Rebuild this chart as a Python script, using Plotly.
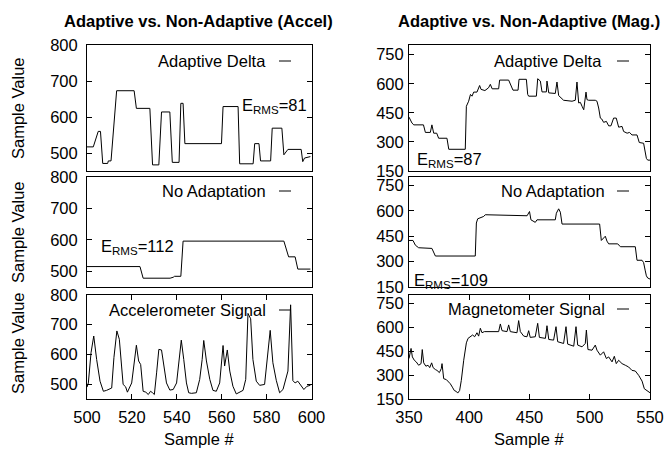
import plotly.graph_objects as go

W, H = 666, 449

# ---------------- data ----------------
accel_adapt_x = [500, 502.8, 505, 506, 507, 509.2, 509.5, 510.7, 513.2, 521, 522, 528, 529.2, 532, 533.2, 536.9, 538, 541,
                 541.8, 542.8, 543.6, 559.9, 560.6, 567.3, 568, 574, 574.7, 576.6, 577.3, 581.8, 582.5, 586.8, 587.7,
                 589.5, 595.4, 596.1, 596.9, 598.7, 599.5]
accel_adapt_y = [517, 517, 560, 560, 471, 471, 478, 478, 673, 673, 624, 624, 467, 467, 614, 614, 474, 474,
                 638, 638, 526, 526, 629, 629, 470, 470, 526, 526, 478, 478, 569, 569, 495,
                 510, 510, 476, 486, 488, 490]

accel_noad_x = [500, 523.6, 525, 537, 538.4, 539, 541.8, 542.8, 587.7, 589.8, 592.7, 593.9, 599.5]
accel_noad_y = [515, 515, 478, 478, 481, 484, 484, 596, 596, 546, 546, 507, 507]

accel_sig_x = [500, 500.6, 501.8, 503, 504.3, 505.8, 507.3, 508.7, 511, 512, 513.3, 514.4, 515.4, 516.1, 517.2, 518,
               519.9, 521, 522, 523, 523.9, 525, 526.2, 527.3, 528.3, 529.2, 530, 531, 532, 533.2, 534.4, 535.4,
               536.9, 538.4, 539.9, 541, 542, 543.1, 544.3, 545.3, 546.5, 548.7, 550.2, 551.3, 552, 553.2, 554.7,
               556.1, 557.6, 559.1, 560.6, 561.3, 562.5, 563.6, 565, 566.5, 568, 569.5, 570.7, 571.7, 572.9, 573.9,
               575.4, 576.9, 579.1, 580.6, 581.6, 582.8, 584.3, 585.8, 587.3, 589.5, 590.7, 591.7, 592.7, 593.9,
               595.1, 596.6, 598, 599.5]
accel_sig_y = [490, 504, 606, 662, 583, 510, 476, 479, 487, 590, 679, 651, 561, 499, 491, 473,
               504, 572, 631, 578, 566, 476, 473, 465, 476, 471, 465, 538, 617, 615, 561, 504,
               480, 482, 504, 583, 648, 583, 504, 471, 469, 471, 516, 583, 647, 578, 516,
               479, 476, 504, 630, 561, 615, 544, 493, 467, 473, 479, 516, 738, 720, 583,
               510, 496, 499, 617, 681, 572, 513, 471, 482, 544, 767, 512, 504, 510,
               499, 482, 493, 496]

mag_adapt_x = [350, 352.5, 354, 362, 363.6, 367.7, 369, 370, 370.5, 373, 374.6, 381.5, 383, 396.7, 397.6, 399.5, 401,
               402.3, 403.7, 406.4, 408.6, 409.8, 413, 416, 417.5, 419, 424.4, 425.2, 432.7, 436.3, 440.5, 441.3,
               447.4, 448.5, 449.3, 455.7, 456.8, 459, 460.4, 464, 464.5, 466, 471.4, 472.8, 474.2, 478.3, 485.3,
               488, 489.4, 490.8, 492.2, 493.6, 495, 496.9, 497.7, 499.1, 504.6, 506, 507.4, 508.8, 510, 511.5,
               513.8, 515.7, 517.6, 519.8, 522, 524, 526.8, 528.1, 531, 533, 535, 539.2, 541.1, 544.7, 545.6, 547,
               548.1, 550]
mag_adapt_y = [428, 397, 388, 388, 349, 349, 388, 353, 345, 345, 319, 319, 262, 262, 484, 510, 545,
               536, 557, 557, 591, 571, 565, 579, 597, 574, 574, 619, 619, 567, 567, 623,
               623, 545, 536, 536, 626, 614, 558, 558, 614, 553, 550, 609, 539, 515, 510,
               515, 609, 501, 504, 484, 466, 557, 518, 515, 515, 510, 475, 423, 418, 401,
               406, 383, 383, 423, 423, 376, 380, 354, 345, 349, 336, 336, 297, 293, 258, 215,
               206, 206]

mag_noad_x = [350, 353.3, 355.3, 358, 369, 371.9, 405, 405.9, 407, 410.6, 412, 413.3, 448, 450, 451.2, 454.8, 456.2,
              471.4, 472.3, 474.2, 475.6, 477, 508.2, 509.6, 512.9, 514.3, 515.7, 523.2, 525.4, 537.8, 539.2, 543.4,
              544.7, 546.1, 547, 548.1, 550]
mag_noad_y = [425, 425, 397, 382, 378, 333, 333, 528, 553, 561, 567, 577, 571, 596, 547, 532, 547,
              547, 586, 612, 592, 522, 522, 425, 450, 421, 405, 405, 388, 388, 308, 308,
              294, 245, 216, 203, 197]

mag_sig_x = [350, 351.7, 352.8, 354.4, 356, 358, 360, 361, 362.2, 364, 365.8, 367.2, 368.8, 370, 371.9, 373.2, 375.2,
             376.8, 377.4, 378.8, 381, 383, 384.3, 386, 387.6, 389.3, 390.4, 392, 393.4, 395.4, 397.6, 399, 400.9,
             402.8, 404.5, 406.4, 407.8, 409.2, 410.6, 412.5, 424.4, 425.8, 427.2, 431.3, 432.7, 434.1, 439.6, 441,
             442.4, 445.2, 447.9, 449.3, 450.6, 454.8, 456.8, 458.2, 463.2, 464.5, 466, 470, 472, 473.4, 478.3,
             480.3, 481.7, 486.7, 488.6, 490, 493.6, 496.3, 497.2, 498.5, 501.9, 504.6, 506, 508.8, 511.5, 513.8,
             515.7, 518.5, 520.4, 522, 524, 526.8, 529.5, 532.3, 535, 537.8, 540.6, 543.4, 545.3, 547.5, 550]
mag_sig_y = [403, 466, 413, 392, 382, 361, 371, 459, 376, 355, 361, 346, 376, 346, 334, 329, 315,
             340, 371, 277, 271, 256, 245, 224, 203, 197, 187, 203, 266, 392, 501, 529, 539,
             550, 539, 564, 543, 592, 564, 571, 571, 619, 577, 571, 613, 571, 564, 640,
             571, 543, 539, 577, 535, 539, 623, 535, 529, 608, 522, 518, 602, 508, 497,
             602, 493, 480, 602, 487, 476, 497, 581, 459, 455, 487, 455, 424, 445, 403,
             413, 382, 417, 371, 392, 371, 361, 350, 329, 325, 298, 262, 214, 203, 189]

accel_ticks = [500, 600, 700, 800]
accel_xticks = [500, 520, 540, 560, 580, 600]
mag_ticks = [150, 300, 450, 600, 750]
mag_xticks = [350, 400, 450, 500, 550]

panel_labels_left = ["Adaptive Delta", "No Adaptation", "Accelerometer Signal"]
panel_labels_right = ["Adaptive Delta", "No Adaptation", "Magnetometer Signal"]
erms_left = [81, 112]
erms_right = [87, 109]

# ---------------- layout helpers ----------------
FONT = "Liberation Sans, Arial, Helvetica, sans-serif"
FS = 16.5


def px(x):
    return x / W


def py(y):
    return 1 - y / H


left_dom = [px(87), px(311.5)]
right_dom = [px(409), px(650)]
row_doms = [[py(171), py(45)], [py(287), py(177)], [py(399), py(295)]]

fig = go.Figure()

series = [
    (accel_adapt_x, accel_adapt_y),
    (accel_noad_x, accel_noad_y),
    (accel_sig_x, accel_sig_y),
    (mag_adapt_x, mag_adapt_y),
    (mag_noad_x, mag_noad_y),
    (mag_sig_x, mag_sig_y),
]
for i, (xs, ys) in enumerate(series):
    n = i + 1
    fig.add_trace(go.Scatter(x=xs, y=ys, mode="lines", line=dict(color="black", width=1),
                             xaxis="x" if n == 1 else f"x{n}", yaxis="y" if n == 1 else f"y{n}",
                             showlegend=False, hoverinfo="skip"))

layout = dict(width=W, height=H, margin=dict(l=0, r=0, t=0, b=0, pad=0, autoexpand=False), autosize=False,
              template="none",
              paper_bgcolor="white", plot_bgcolor="white", showlegend=False,
              font=dict(family=FONT, size=FS, color="black"))

for i in range(6):
    n = i + 1
    col = 0 if i < 3 else 1
    row = i % 3
    xk = "xaxis" if n == 1 else f"xaxis{n}"
    yk = "yaxis" if n == 1 else f"yaxis{n}"
    bottom = row == 2
    xa = dict(domain=left_dom if col == 0 else right_dom,
              range=[500, 600] if col == 0 else [350, 550],
              anchor="y" if n == 1 else f"y{n}", automargin=False,
              showline=True, mirror="allticks" if bottom else True, linecolor="black", linewidth=1,
              showgrid=False, zeroline=False, fixedrange=True)
    if bottom:
        xa.update(tickmode="array", tickvals=accel_xticks if col == 0 else mag_xticks,
                  ticks="inside", ticklen=5, tickcolor="black", tickwidth=1,
                  showticklabels=True, tickfont=dict(family=FONT, size=FS, color="black"),
                  ticklabelstandoff=3)
    else:
        xa.update(ticks="", showticklabels=False)
    ya = dict(domain=row_doms[row],
              range=[450, 800] if col == 0 else [150, 800],
              anchor="x" if n == 1 else f"x{n}", automargin=False,
              tickmode="array", tickvals=accel_ticks if col == 0 else mag_ticks,
              ticks="inside", ticklen=5, tickcolor="black", tickwidth=1,
              showline=True, mirror="allticks", linecolor="black", linewidth=1,
              showgrid=False, zeroline=False, fixedrange=True,
              tickfont=dict(family=FONT, size=FS, color="black"),
              ticklabelstandoff=5 if col == 0 else 1)
    layout[xk] = xa
    layout[yk] = ya

annotations = []
shapes = []

# titles
annotations.append(dict(text="<b>Adaptive vs. Non-Adaptive (Accel)</b>", x=px(198), y=py(21),
                        xref="paper", yref="paper", xanchor="center", yanchor="middle", showarrow=False,
                        font=dict(family=FONT, size=FS, color="black")))
annotations.append(dict(text="<b>Adaptive vs. Non-Adaptive (Mag.)</b>", x=px(529), y=py(21),
                        xref="paper", yref="paper", xanchor="center", yanchor="middle", showarrow=False,
                        font=dict(family=FONT, size=FS, color="black")))
# y axis titles
for yc in [108, 232, 343]:
    annotations.append(dict(text="Sample Value", x=px(18), y=py(yc), xref="paper", yref="paper",
                            xanchor="center", yanchor="middle", textangle=-90, showarrow=False,
                            font=dict(family=FONT, size=FS, color="black")))
# x axis titles
for xc in [199, 529]:
    annotations.append(dict(text="Sample #", x=px(xc), y=py(439), xref="paper", yref="paper",
                            xanchor="center", yanchor="middle", showarrow=False,
                            font=dict(family=FONT, size=FS, color="black")))

# keys
key_left = [(268, 61), (268, 191), (268, 310)]
key_right = [(604, 61), (607, 191), (607, 309)]
for lab, (xr, yc) in zip(panel_labels_left, key_left):
    annotations.append(dict(text=lab, x=px(xr), y=py(yc), xref="paper", yref="paper",
                            xanchor="right", yanchor="middle", showarrow=False,
                            font=dict(family=FONT, size=FS, color="black")))
    shapes.append(dict(type="line", xref="paper", yref="paper", x0=px(279), x1=px(291),
                       y0=py(yc), y1=py(yc), line=dict(color="black", width=1)))
for lab, (xr, yc) in zip(panel_labels_right, key_right):
    annotations.append(dict(text=lab, x=px(xr), y=py(yc), xref="paper", yref="paper",
                            xanchor="right", yanchor="middle", showarrow=False,
                            font=dict(family=FONT, size=FS, color="black")))
    shapes.append(dict(type="line", xref="paper", yref="paper", x0=px(617), x1=px(629),
                       y0=py(yc), y1=py(yc), line=dict(color="black", width=1)))

# E_RMS labels
erms_pos = [(240, 106, erms_left[0]), (99, 247, erms_left[1]), (415, 160, erms_right[0]), (412, 281, erms_right[1])]
for xl, yc, v in erms_pos:
    annotations.append(dict(text=f"E<sub>RMS</sub>={v}", x=px(xl), y=py(yc), xref="paper", yref="paper",
                            xanchor="left", yanchor="middle", showarrow=False,
                            font=dict(family=FONT, size=FS, color="black")))

layout["annotations"] = annotations
layout["shapes"] = shapes
fig.update_layout(**layout)
fig.write_html("out.html")
